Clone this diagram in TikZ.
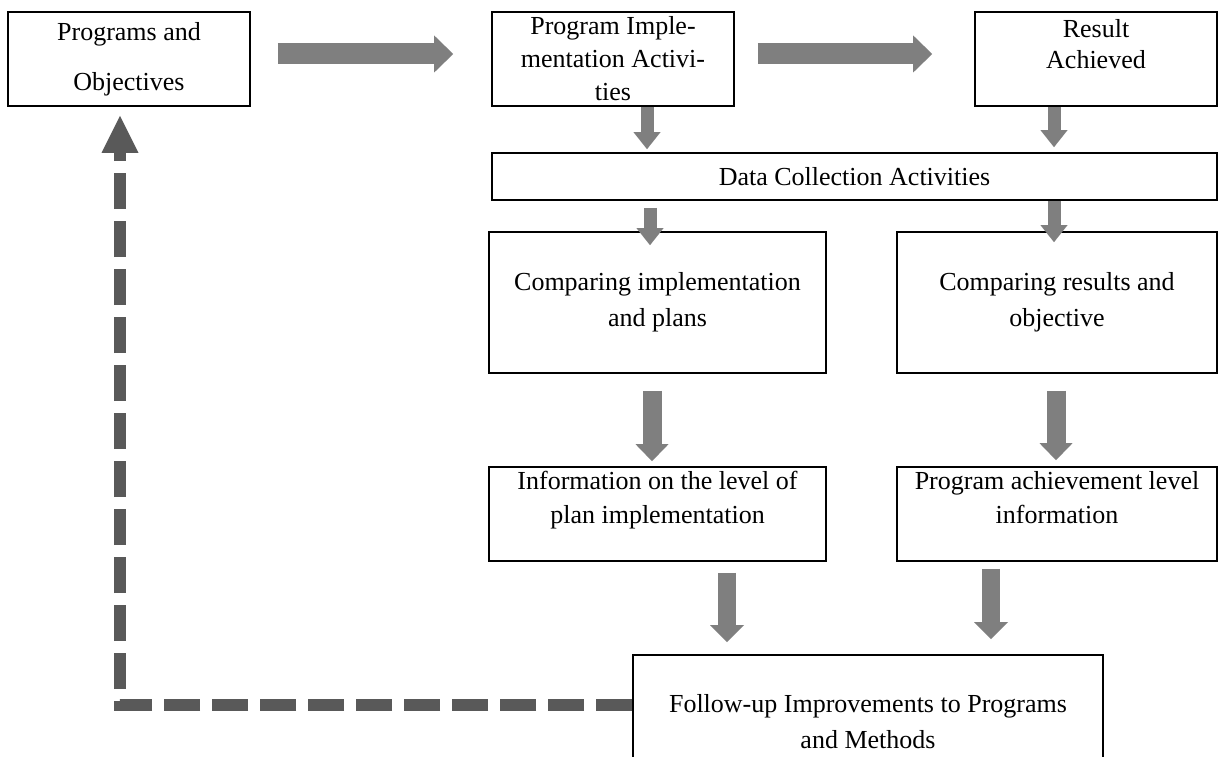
\documentclass[tikz,border=0pt]{standalone}
\usepackage{fontspec}
\setmainfont{Liberation Serif}
\usetikzlibrary{arrows.meta,calc}
\definecolor{arrowgray}{HTML}{7F7F7F}
\definecolor{dashgray}{HTML}{595959}
\begin{document}
\begin{tikzpicture}[x=1pt,y=-1pt,
  box/.style={draw=black,line width=1.6pt,fill=white,rectangle,inner sep=0pt,align=center,font=\fontsize{26}{33}\selectfont},
  harrow/.style={draw=arrowgray,line width=21pt,-{Triangle[width=37pt,length=19pt,line width=0pt]}},
  sarrow/.style={draw=arrowgray,line width=13pt,-{Triangle[width=27pt,length=17pt,line width=0pt]}},
  marrow/.style={draw=arrowgray,line width=19pt,-{Triangle[width=33pt,length=17pt,line width=0pt]}},
  larrow/.style={draw=arrowgray,line width=18pt,-{Triangle[width=34pt,length=17pt,line width=0pt]}},
  loopline/.style={draw=dashgray,line width=12pt,dash pattern=on 36pt off 12pt,-{Triangle[width=37pt,length=37pt,line width=0pt]}}
]
\clip (0,0) rectangle (1219,757);
\fill[white] (0,0) rectangle (1219,757);

% boxes
\node[box,minimum width=242pt,minimum height=94pt,font=\fontsize{26}{50}\selectfont] (A) at (129,59) {Programs and\\Objectives};
\node[box,minimum width=242pt,minimum height=94pt] (B) at (613,59) {Program Imple-\\mentation Activi-\\ties};
\node[box,minimum width=242pt,minimum height=94pt,font=\fontsize{26}{31}\selectfont] (C) at (1096,59) {Result\\Achieved\\\mbox{}};
\node[box,minimum width=725pt,minimum height=47pt] (D) at (854.5,176.5) {Data Collection Activities};
\node[box,minimum width=337pt,minimum height=141pt,font=\fontsize{26}{36}\selectfont] (E) at (657.5,302.5) {Comparing implementation\\and plans};
\node[box,minimum width=320pt,minimum height=141pt,font=\fontsize{26}{36}\selectfont] (F) at (1057,302.5) {Comparing results and\\objective};
\node[box,minimum width=337pt,minimum height=94pt,font=\fontsize{26}{34}\selectfont] (G) at (657.5,514) {Information on the level of\\plan implementation\\\mbox{}};
\node[box,minimum width=320pt,minimum height=94pt,font=\fontsize{26}{34}\selectfont] (H) at (1057,514) {Program achievement level\\information\\\mbox{}};
\node[box,minimum width=470pt,minimum height=133pt,font=\fontsize{26}{36}\selectfont] (I) at (868,721.5) {Follow-up Improvements to Programs\\and Methods};

% x positions of the vertical connectors
\coordinate (xb) at (647,0);
\coordinate (xc) at (1054,0);
\coordinate (xe) at (650,0);
\coordinate (xg) at (652,0);
\coordinate (xh) at (1056,0);
\coordinate (xi1) at (727,0);
\coordinate (xi2) at (991,0);
\coordinate (lp) at (120,705);

% connectors
\draw[harrow] ($(A.east)+(27,-5)$) -- ($(B.west)+(-38,-5)$);
\draw[harrow] ($(B.east)+(23,-5)$) -- ($(C.west)+(-42,-5)$);
\draw[sarrow] (B.south -| xb) -- ($(D.north -| xb)+(0,-3)$);
\draw[sarrow] (C.south -| xc) -- ($(D.north -| xc)+(0,-5)$);
\draw[sarrow] ($(D.south -| xe)+(0,7)$) -- ($(E.north -| xe)+(0,14)$);
\draw[sarrow] (D.south -| xc) -- ($(F.north -| xc)+(0,11)$);
\draw[marrow] ($(E.south -| xg)+(0,17)$) -- ($(G.north -| xg)+(0,-5)$);
\draw[marrow] ($(F.south -| xh)+(0,17)$) -- ($(H.north -| xh)+(0,-6)$);
\draw[larrow] ($(G.south -| xi1)+(0,11)$) -- ($(I.north -| xi1)+(0,-12)$);
\draw[larrow] ($(H.south -| xi2)+(0,7)$) -- ($(I.north -| xi2)+(0,-15)$);
\draw[loopline] (I.west |- lp) -- (lp) -- ($(A.south -| lp)+(0,9)$);
\end{tikzpicture}
\end{document}
